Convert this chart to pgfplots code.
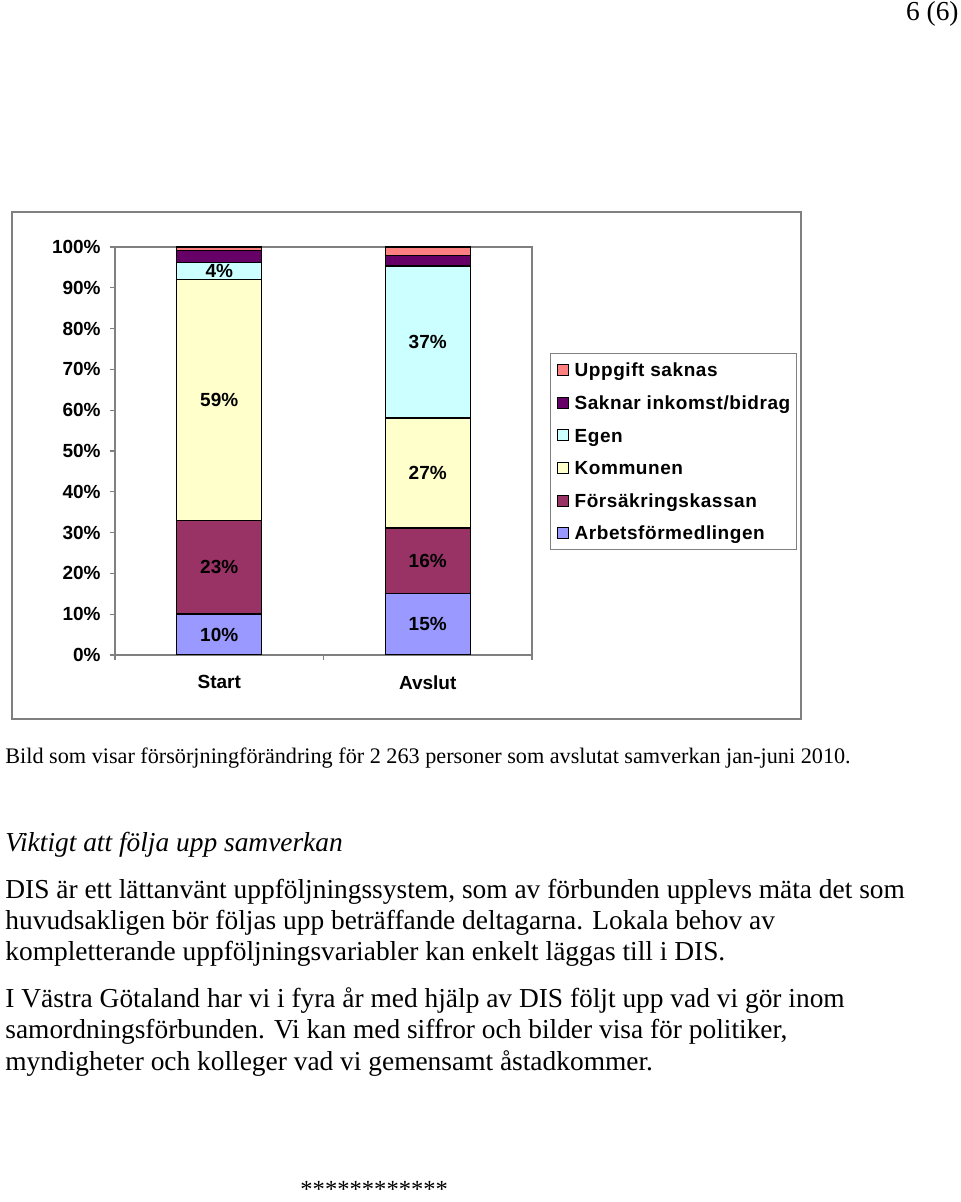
\documentclass[border=0pt]{standalone}
\usepackage{fontspec}
\setmainfont{Liberation Serif}
\newfontfamily\arial{Liberation Sans}
\newfontfamily\arialsp[LetterSpace=3]{Liberation Sans}
\usepackage{pgfplots}
\pgfplotsset{compat=1.18}
\definecolor{arb}{HTML}{9999FF}
\definecolor{fk}{HTML}{993366}
\definecolor{kom}{HTML}{FFFFCC}
\definecolor{egen}{HTML}{CCFFFF}
\definecolor{sak}{HTML}{660066}
\definecolor{upp}{HTML}{FF8080}
\definecolor{axgray}{HTML}{808080}
\newcommand\cf{\arial\fontsize{9.5}{11}\selectfont\bfseries}
\newcommand\lf{\arialsp\fontsize{9.5}{11}\selectfont\bfseries}
\newcommand\bodyf{\fontsize{13.7}{16}\selectfont}
\begin{document}
\begin{tikzpicture}
\useasboundingbox (0pt,0pt) rectangle (480pt,601pt);
\draw[axgray, line width=0.6pt] (6pt,241.5pt) rectangle (400.5pt,495pt);
\begin{axis}[
  at={(57.5pt,273.5pt)}, anchor=south west,
  scale only axis, width=208.5pt, height=204pt,
  ybar stacked, bar width=42.5pt,
  xmin=-0.5, xmax=1.5, ymin=0, ymax=100,
  axis line style={axgray, line width=0.6pt},
  tick style={axgray, line width=0.6pt},
  major tick length=2.5pt,
  tick align=outside, tick pos=left,
  xtick={-0.5,0.5,1.5}, xticklabels={},
  extra x ticks={0,1}, extra x tick labels={Start,Avslut},
  extra x tick style={major tick length=0pt},
  ytick={0,10,...,100},
  yticklabels={0\%,10\%,20\%,30\%,40\%,50\%,60\%,70\%,80\%,90\%,100\%},
  tick label style={font=\cf},
  yticklabel style={inner sep=0pt, xshift=-4.5pt},
  xticklabel style={inner sep=0pt, yshift=-10pt},
  every axis plot/.append style={draw=black, line width=0.7pt,
     legend image code/.code={\draw[##1,draw=black,line width=0.5pt] (0pt,-2.75pt) rectangle (5.5pt,2.75pt);}},
  reverse legend,
  legend style={at={(1.0432,0.740)}, anchor=north west, draw=axgray, line width=0.6pt,
     font=\lf, cells={anchor=west}, inner xsep=3pt, inner ysep=4.85pt,
     nodes={inner sep=0pt, text height=6.8pt, text depth=0pt},
     row sep=9.5pt, /tikz/every odd column/.append style={column sep=3pt}},
  after end axis/.code={
    \node[font=\cf] at (axis cs:0,5) {10\%};
    \node[font=\cf] at (axis cs:0,21.5) {23\%};
    \node[font=\cf] at (axis cs:0,62.55) {59\%};
    \node[font=\cf] at (axis cs:0,94.15) {4\%};
    \node[font=\cf] at (axis cs:1,7.5) {15\%};
    \node[font=\cf] at (axis cs:1,23.05) {16\%};
    \node[font=\cf] at (axis cs:1,44.6) {27\%};
    \node[font=\cf] at (axis cs:1,76.7) {37\%};
  },
]
\addplot[fill=arb] coordinates {(0,10) (1,15)};
\addlegendentry{Arbetsförmedlingen}
\addplot[fill=fk] coordinates {(0,23) (1,16.1)};
\addlegendentry{Försäkringskassan}
\addplot[fill=kom] coordinates {(0,59.1) (1,27)};
\addlegendentry{Kommunen}
\addplot[fill=egen] coordinates {(0,4.1) (1,37.2)};
\addlegendentry{Egen}
\addplot[fill=sak] coordinates {(0,3.0) (1,2.6)};
\addlegendentry{Saknar inkomst/bidrag}
\addplot[fill=upp] coordinates {(0,0.8) (1,2.1)};
\addlegendentry{Uppgift saknas}
\end{axis}
\node[anchor=base east, inner sep=0pt, font=\bodyf] at (479.5pt,590.5pt) {6 (6)};
\node[anchor=base west, inner sep=0pt, font=\fontsize{11.1}{13}\selectfont] at (2.5pt,219pt) {Bild som visar försörjningförändring för 2 263 personer som avslutat samverkan jan-juni 2010.};
\node[anchor=base west, inner sep=0pt, font=\bodyf\itshape] at (2.5pt,175pt) {Viktigt att följa upp samverkan};
\node[anchor=base west, inner sep=0pt, font=\bodyf] at (2.5pt,151.5pt) {DIS är ett lättanvänt uppföljningssystem, som av förbunden upplevs mäta det som};
\node[anchor=base west, inner sep=0pt, font=\bodyf] at (2.5pt,136pt) {huvudsakligen bör följas upp beträffande deltagarna. Lokala behov av};
\node[anchor=base west, inner sep=0pt, font=\bodyf] at (2.5pt,120.5pt) {kompletterande uppföljningsvariabler kan enkelt läggas till i DIS.};
\node[anchor=base west, inner sep=0pt, font=\bodyf] at (2.5pt,97pt) {I Västra Götaland har vi i fyra år med hjälp av DIS följt upp vad vi gör inom};
\node[anchor=base west, inner sep=0pt, font=\bodyf] at (2.5pt,81.5pt) {samordningsförbunden. Vi kan med siffror och bilder visa för politiker,};
\node[anchor=base west, inner sep=0pt, font=\bodyf] at (2.5pt,65.5pt) {myndigheter och kolleger vad vi gemensamt åstadkommer.};
\node[anchor=base west, inner sep=0pt, font=\fontsize{12.3}{14}\selectfont] at (150pt,2pt) {************};
\end{tikzpicture}
\end{document}
